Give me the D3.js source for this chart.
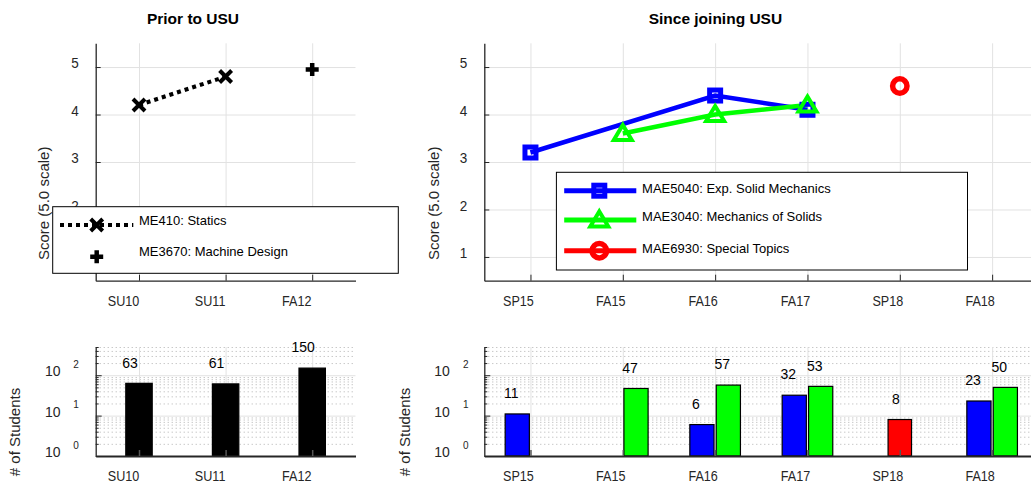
<!DOCTYPE html>
<html><head><meta charset="utf-8">
<script src="https://cdn.jsdelivr.net/npm/d3@7"></script>
<style>
body{margin:0;background:#fff;}
svg{display:block;}
</style></head><body>
<script>
// ---------------- data ----------------
const priorTerms = ["SU10", "SU11", "FA12"];
const staticsScores = [4.2, 4.8, null];
const machineDesignScores = [null, null, 4.95];
const priorStudents = [63, 61, 150];

const usuTerms = ["SP15", "FA15", "FA16", "FA17", "SP18", "FA18"];
const mae5040Scores = [3.2, null, 4.4, 4.1, null, null];
const mae3040Scores = [null, 3.6, 4.0, 4.2, null, null];
const mae6930Scores = [null, null, null, null, 4.6, null];
const mae5040Students = [11, null, 6, 32, null, 23];
const mae3040Students = [null, 47, 57, 53, null, 50];
const mae6930Students = [null, null, null, null, 8, null];

const scoreTicks = [1, 2, 3, 4, 5];
const countMajorTicks = [1, 10, 100];
const countTickExponents = ["0", "1", "2"];
const countMinorTicks = [2,3,4,5,6,7,8,9,20,30,40,50,60,70,80,90,200,300,400,500];

const titles = ["Prior to USU", "Since joining USU"];
const scoreLabel = "Score (5.0 scale)";
const countLabel = "# of Students";
const priorLegend = ["ME410: Statics", "ME3670: Machine Design"];
const usuLegend = ["MAE5040: Exp. Solid Mechanics", "MAE3040: Mechanics of Solids", "MAE6930: Special Topics"];

// ---------------- setup ----------------
const FONT = '"Liberation Sans", Arial, Helvetica, sans-serif';
const W = 1031, H = 483;
const svg = d3.select("body").append("svg").attr("width", W).attr("height", H)
  .attr("font-family", FONT);

const BLUE = "#0000ff", GREEN = "#00ff00", RED = "#ff0000", AX = "#262626", GRID = "#e2e2e2";

const xPrior = d3.scaleLinear().domain([0.5, 3.5]).range([95.7, 355.5]);
const xUsu = d3.scaleLinear().domain([0.5, 6.5]).range([484.3, 1038.3]);
const yScore = d3.scaleLinear().domain([0.5, 5.5]).range([280.7, 43.3]);
const yCount = d3.scaleLog().domain([1, 500]).range([456, 347]);

function marker(g, type, cx, cy, color) {
  if (type === "x") {
    g.append("path").attr("d", `M${cx-6},${cy-6}L${cx+6},${cy+6}M${cx-6},${cy+6}L${cx+6},${cy-6}`)
      .attr("stroke", color).attr("stroke-width", 4).attr("fill", "none");
  } else if (type === "plus") {
    g.append("path").attr("d", `M${cx-6.5},${cy}H${cx+6.5}M${cx},${cy-6.5}V${cy+6.5}`)
      .attr("stroke", color).attr("stroke-width", 4.5).attr("fill", "none");
  } else if (type === "square") {
    g.append("rect").attr("x", cx-5.5).attr("y", cy-5.5).attr("width", 11).attr("height", 11)
      .attr("stroke", color).attr("stroke-width", 5).attr("fill", "none");
  } else if (type === "tri") {
    g.append("path").attr("d", `M${cx},${cy-8.5}L${cx+9},${cy+6.5}L${cx-9},${cy+6.5}Z`)
      .attr("stroke", color).attr("stroke-width", 4).attr("fill", "none")
      .attr("stroke-linejoin", "miter").attr("stroke-miterlimit", 3);
  } else if (type === "circle") {
    g.append("circle").attr("cx", cx).attr("cy", cy).attr("r", 7.2)
      .attr("stroke", color).attr("stroke-width", 5.5).attr("fill", "none");
  }
}

function styleText(sel, size, fill) {
  sel.attr("font-size", size).attr("fill", fill).attr("font-family", FONT);
}

// ---------------- score panels ----------------
function scorePanel(cfg) {
  const { xs, terms, labelDx, tickLabelX, yLabelX, titleX, title } = cfg;
  const g = svg.append("g");
  const [x0, x1] = xs.range();
  const [yb, yt] = yScore.range();
  const idx = terms.map((d, i) => i + 1);

  // grid
  g.append("g").attr("transform", `translate(0,${yb})`)
    .call(d3.axisBottom(xs).tickValues(idx).tickSize(-(yb - yt)).tickFormat(""))
    .call(s => { s.select(".domain").remove(); s.selectAll("line").attr("stroke", GRID); });
  g.append("g").attr("transform", `translate(${x0},0)`)
    .call(d3.axisLeft(yScore).tickValues(scoreTicks).tickSize(-(x1 - x0)).tickFormat(""))
    .call(s => { s.select(".domain").remove(); s.selectAll("line").attr("stroke", GRID); });

  // axes
  const xa = g.append("g").attr("transform", `translate(0,${yb})`)
    .call(d3.axisBottom(xs).tickValues(idx).tickSizeInner(-6).tickSizeOuter(0).tickFormat(i => terms[i - 1]));
  xa.select(".domain").attr("stroke", AX).attr("stroke-width", 1.3);
  xa.selectAll(".tick line").attr("stroke", AX);
  xa.selectAll("text").attr("y", null).attr("dy", null)
    .attr("transform", `translate(${labelDx},${24.9}) scale(0.84,1)`).attr("text-anchor", "middle")
    .call(styleText, 15, AX);

  const ya = g.append("g").attr("transform", `translate(${x0},0)`)
    .call(d3.axisLeft(yScore).tickValues(scoreTicks).tickSizeInner(-5).tickSizeOuter(0).tickFormat(d3.format("d")));
  ya.select(".domain").attr("stroke", AX).attr("stroke-width", 1.3);
  ya.selectAll(".tick line").attr("stroke", AX);
  ya.selectAll("text").attr("x", null).attr("dy", null)
    .attr("transform", `translate(${tickLabelX - x0},${0.8}) scale(0.9,1)`).attr("text-anchor", "middle")
    .call(styleText, 15, AX);

  // y label
  g.append("text").attr("transform", `translate(${yLabelX},203.3) rotate(-90)`)
    .attr("text-anchor", "middle").text(scoreLabel).call(styleText, 15, AX);
  // title
  g.append("text").attr("x", titleX).attr("y", 23.6).attr("text-anchor", "middle")
    .attr("font-weight", "bold").text(title).call(styleText, 15.5, "#000");
  return g;
}

const gPrior = scorePanel({ xs: xPrior, terms: priorTerms, labelDx: -16, tickLabelX: 75, yLabelX: 48.7, titleX: 193, title: titles[0] });
const gUsu = scorePanel({ xs: xUsu, terms: usuTerms, labelDx: -12.5, tickLabelX: 463.6, yLabelX: 439, titleX: 715.4, title: titles[1] });

function seriesPoints(values) {
  return values.map((v, i) => ({ i: i + 1, v })).filter(d => d.v !== null);
}

// prior: statics dotted line with x markers
{
  const pts = seriesPoints(staticsScores);
  gPrior.append("path").datum(pts)
    .attr("d", d3.line().x(d => xPrior(d.i)).y(d => yScore(d.v)))
    .attr("stroke", "#000").attr("stroke-width", 4).attr("stroke-dasharray", "4,4").attr("fill", "none");
  pts.forEach(d => marker(gPrior, "x", xPrior(d.i), yScore(d.v), "#000"));
  seriesPoints(machineDesignScores).forEach(d => marker(gPrior, "plus", xPrior(d.i), yScore(d.v), "#000"));
}

// usu lines
const usuSeries = [
  { vals: mae5040Scores, color: BLUE, m: "square" },
  { vals: mae3040Scores, color: GREEN, m: "tri" },
  { vals: mae6930Scores, color: RED, m: "circle" }
];
usuSeries.forEach(s => {
  const pts = seriesPoints(s.vals);
  if (pts.length > 1) {
    gUsu.append("path").datum(pts)
      .attr("d", d3.line().x(d => xUsu(d.i)).y(d => yScore(d.v)))
      .attr("stroke", s.color).attr("stroke-width", 4.5).attr("fill", "none");
  }
});
usuSeries.forEach(s => {
  seriesPoints(s.vals).forEach(d => marker(gUsu, s.m, xUsu(d.i), yScore(d.v), s.color));
});

// legends
{
  const lg = svg.append("g");
  lg.append("rect").attr("x", 52.7).attr("y", 206.7).attr("width", 345.6).attr("height", 66.6)
    .attr("fill", "#fff").attr("stroke", "#000").attr("stroke-width", 1);
  lg.append("line").attr("x1", 60).attr("x2", 133.3).attr("y1", 225).attr("y2", 225)
    .attr("stroke", "#000").attr("stroke-width", 4).attr("stroke-dasharray", "4,4");
  marker(lg, "x", 96.7, 225, "#000");
  marker(lg, "plus", 96.7, 256.7, "#000");
  lg.append("text").attr("x", 139).attr("y", 220 + 4.7).text(priorLegend[0]).call(styleText, 13, "#000");
  lg.append("text").attr("x", 139).attr("y", 251 + 4.7).text(priorLegend[1]).call(styleText, 13, "#000");
}
{
  const lg = svg.append("g");
  lg.append("rect").attr("x", 556.4).attr("y", 172.3).attr("width", 411.1).attr("height", 97.7)
    .attr("fill", "#fff").attr("stroke", "#000").attr("stroke-width", 1);
  const lineY = [190.7, 220, 250.7];
  const textY = [188, 216.5, 248.7];
  usuSeries.forEach((s, k) => {
    lg.append("line").attr("x1", 564.2).attr("x2", 636.3).attr("y1", lineY[k]).attr("y2", lineY[k])
      .attr("stroke", s.color).attr("stroke-width", 5);
    marker(lg, s.m, 599.3, lineY[k], s.color);
    lg.append("text").attr("x", 642.1).attr("y", textY[k] + 4.7).text(usuLegend[k]).call(styleText, 13, "#000");
  });
}

// ---------------- count (bar) panels ----------------
function countPanel(cfg) {
  const { xs, terms, tenX, supX, yLabelX } = cfg;
  const g = svg.append("g");
  const [x0, x1] = xs.range();
  const [yb, yt] = yCount.range();
  const idx = terms.map((d, i) => i + 1);

  // minor dotted grid
  g.append("g").attr("transform", `translate(${x0},0)`)
    .call(d3.axisLeft(yCount).tickValues(countMinorTicks).tickSize(-(x1 - x0)).tickFormat(""))
    .call(s => { s.select(".domain").remove(); s.selectAll("line").attr("stroke", "#b0b0b0").attr("stroke-dasharray", "1,3"); });
  // major grid
  g.append("g").attr("transform", `translate(${x0},0)`)
    .call(d3.axisLeft(yCount).tickValues(countMajorTicks).tickSize(-(x1 - x0)).tickFormat(""))
    .call(s => { s.select(".domain").remove(); s.selectAll("line").attr("stroke", GRID); });
  g.append("g").attr("transform", `translate(0,${yb})`)
    .call(d3.axisBottom(xs).tickValues(idx).tickSize(-(yb - yt)).tickFormat(""))
    .call(s => { s.select(".domain").remove(); s.selectAll("line").attr("stroke", GRID); });

  // y label
  g.append("text").attr("transform", `translate(${yLabelX},432) rotate(-90)`)
    .attr("text-anchor", "middle").text(countLabel).call(styleText, 15, AX);

  // custom log tick labels 10^n
  countMajorTicks.forEach((d, k) => {
    const yy = yCount(d);
    g.append("text").attr("x", tenX).attr("y", yy - 3.8 + 5).attr("text-anchor", "middle")
      .text("10").call(styleText, 14, AX);
    g.append("text").attr("x", supX).attr("y", yy - 10.8 + 3.6).attr("text-anchor", "middle")
      .text(countTickExponents[k]).call(styleText, 10, AX);
  });
  return g;
}

function countAxes(g, xs, terms, labelDx) {
  const [x0, x1] = xs.range();
  const [yb, yt] = yCount.range();
  const idx = terms.map((d, i) => i + 1);
  const xa = g.append("g").attr("transform", `translate(0,${yb})`)
    .call(d3.axisBottom(xs).tickValues(idx).tickSizeInner(-6).tickSizeOuter(0).tickFormat(i => terms[i - 1]));
  xa.select(".domain").attr("stroke", AX).attr("stroke-width", 2);
  xa.selectAll(".tick line").attr("stroke", "#555").attr("stroke-width", 1.5);
  xa.selectAll("text").attr("y", null).attr("dy", null)
    .attr("transform", `translate(${labelDx},${24.9}) scale(0.84,1)`).attr("text-anchor", "middle")
    .call(styleText, 15, AX);

  const ya = g.append("g").attr("transform", `translate(${x0},0)`)
    .call(d3.axisLeft(yCount).tickValues(countMajorTicks).tickSizeInner(-6).tickSizeOuter(0).tickFormat(""));
  ya.select(".domain").attr("stroke", AX).attr("stroke-width", 1.3);
  ya.selectAll(".tick line").attr("stroke", AX);
  g.append("g").attr("transform", `translate(${x0},0)`)
    .call(d3.axisLeft(yCount).tickValues(countMinorTicks).tickSizeInner(-3).tickSizeOuter(0).tickFormat(""))
    .call(s => { s.select(".domain").remove(); s.selectAll("line").attr("stroke", AX); });
}

function drawBars(g, xs, values, color, offset, width, labelDx) {
  const unit = xs(2) - xs(1);
  const pts = seriesPoints(values);
  pts.forEach(d => {
    const cx = xs(d.i + offset);
    const top = yCount(d.v);
    g.append("rect").attr("x", cx - width * unit / 2).attr("y", top)
      .attr("width", width * unit).attr("height", yCount(1) - top)
      .attr("fill", color).attr("stroke", "#000").attr("stroke-width", 1.2);
    g.append("text").attr("x", cx + labelDx).attr("y", top - 20.8 + 5).attr("text-anchor", "middle")
      .text(d.v).call(styleText, 14, "#000");
  });
}

const gPriorBars = countPanel({ xs: xPrior, terms: priorTerms, tenX: 52.7, supX: 76, yLabelX: 20.4 });
drawBars(gPriorBars, xPrior, priorStudents, "#000", 0, 0.305, -9);
countAxes(gPriorBars, xPrior, priorTerms, -16);

const gUsuBars = countPanel({ xs: xUsu, terms: usuTerms, tenX: 442, supX: 465.8, yLabelX: 410.4 });
drawBars(gUsuBars, xUsu, mae5040Students, BLUE, -0.143, 0.262, -6);
drawBars(gUsuBars, xUsu, mae3040Students, GREEN, 0.143, 0.262, -6);
drawBars(gUsuBars, xUsu, mae6930Students, RED, 0, 0.254, -4);
countAxes(gUsuBars, xUsu, usuTerms, -12.5);
</script>
</body></html>
